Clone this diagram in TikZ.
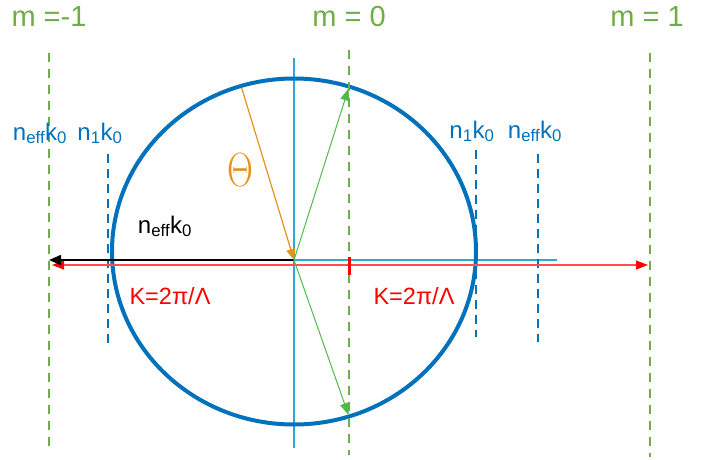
\documentclass[tikz,border=0pt]{standalone}
\usepackage{fontspec}
\setmainfont{Liberation Sans}
\newfontfamily\thetafont{Latin Modern Roman}
\usetikzlibrary{arrows.meta}

\definecolor{ordgreen}{RGB}{112,173,71}
\definecolor{circblue}{RGB}{0,114,188}
\definecolor{axcyan}{RGB}{40,172,208}
\definecolor{thorange}{RGB}{230,145,30}
\definecolor{arrgreen}{RGB}{80,185,75}
\definecolor{gratred}{RGB}{255,80,80}

\begin{document}
\begin{tikzpicture}[
    x=1pt, y=-1pt,
    order/.style={ordgreen, line width=2pt, dash pattern=on 9pt off 7pt},
    level/.style={circblue, line width=1.5pt, dash pattern=on 9pt off 6pt},
    axis/.style={axcyan, line width=1.3pt},
    wave/.style={line width=1pt, -{Triangle[length=12pt, width=9pt]}},
    ordlabel/.style={text=ordgreen, font=\fontsize{29}{32}\selectfont},
    klabel/.style={text=circblue, font=\fontsize{24}{27}\selectfont, anchor=base},
    glabel/.style={text=red, font=\fontsize{23.5}{26}\selectfont, anchor=base}
]
    \useasboundingbox (0,0) rectangle (710,459);

    % points
    \coordinate (O) at (294,260);
    \coordinate (C) at (294,251.5);
    \coordinate (inc) at (241.7,88);
    \coordinate (up) at (348.5,88.5);
    \coordinate (down) at (348.5,415);
    \coordinate (beta) at (49,260);
    \coordinate (gL) at (52,265);
    \coordinate (gR) at (648,265);

    % axes
    \draw [axis] (294,58) -- (294,448);
    \draw [axis] (O) -- (557,260);

    % index circle
    \draw [circblue, line width=4pt] (C) ellipse [x radius=182pt, y radius=173pt];

    % diffraction orders
    \draw [order] (49,53) -- (49,447);
    \draw [order] (349,50) -- (349,455);
    \draw [order] (650,53) -- (650,457);

    % n1 k0 and neff k0 levels
    \draw [level] (108,154) -- (108,345);
    \draw [level] (476,150) -- (476,337);
    \draw [level] (538,154) -- (538,342);

    % wave vectors
    \draw [gratred, line width=1.3pt, {Triangle[length=12pt, width=9pt, color=red]}-{Triangle[length=12pt, width=9pt, color=red]}] (gL) -- (gR);
    \draw [red, line width=3pt] (349,257) -- (349,275);
    \draw [black, line width=1.5pt, -{Triangle[length=12pt, width=10pt]}] (O) -- (beta);
    \draw [thorange, line width=1.2pt, -{Triangle[length=11pt, width=9pt]}] (inc) -- (O);
    \draw [wave, arrgreen] (O) -- (up);
    \draw [wave, arrgreen] (O) -- (down);

    % labels
    \node (mneg) [ordlabel] at (49,17) {m =-1};
    \node (mzero) [ordlabel] at (349,17) {m = 0};
    \node (mpos) [ordlabel] at (647,17) {m = 1};
    \node (neffL) [klabel] at (40,140) {n\textsubscript{eff}k\textsubscript{0}};
    \node (noneL) [klabel] at (100,140) {n\textsubscript{1}k\textsubscript{0}};
    \node (noneR) [klabel] at (472,138) {n\textsubscript{1}k\textsubscript{0}};
    \node (neffR) [klabel] at (535,138) {n\textsubscript{eff}k\textsubscript{0}};
    \node (betalab) [klabel, text=black] at (165,233) {n\textsubscript{eff}k\textsubscript{0}};
    \node (gratL) [glabel] at (170,304) {K=2π/Λ};
    \node (gratR) [glabel] at (414,304) {K=2π/Λ};
    \node (theta) [text=thorange, font=\thetafont\fontsize{48}{52}\selectfont] at (240,170) {\scalebox{0.75}[1]{Θ}};
\end{tikzpicture}
\end{document}
